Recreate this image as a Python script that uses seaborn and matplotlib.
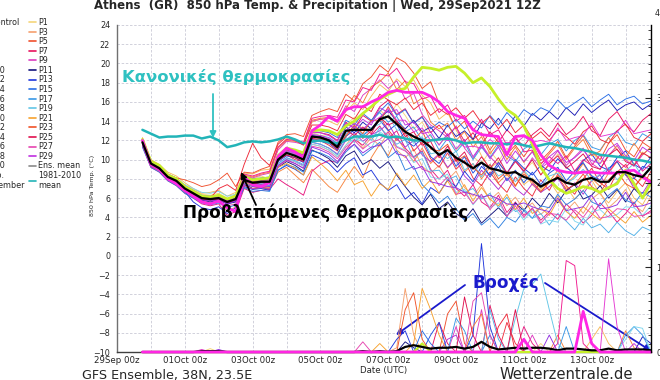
import matplotlib
matplotlib.use("Agg")
import matplotlib.pyplot as plt
from matplotlib.lines import Line2D
from matplotlib.ticker import MultipleLocator
import pandas as pd
import seaborn as sns

W, H = 660, 380

# forecast steps, hours after 29Sep 00z (6-hourly)
hours = list(range(18, 384, 6))
tick_days = [0, 2, 4, 6, 8, 10, 12, 14]
tick_labels = ["29Sep 00z", "01Oct 00z", "03Oct 00z", "05Oct 00z",
               "07Oct 00z", "09Oct 00z", "11Oct 00z", "13Oct 00z"]

member_names = ["P%d" % i for i in range(1, 31)]
member_colors = ["#f5d57a", "#f7bb5c", "#f5a06e", "#f7843e", "#f0502e",
                 "#ee3040", "#e8125e", "#e8187e", "#dc3cc0", "#b030d2",
                 "#14147e", "#1a1ab4", "#2036dc", "#204ee0", "#2a6ee6",
                 "#3080e0", "#3a98e6", "#50b0e8", "#62c6e6", "#80d6ee",
                 "#f7a22e", "#f67a36", "#f05228", "#ee2838", "#e0104e",
                 "#f0188e", "#e646b0", "#e438d2", "#c030e0", "#9030e0"]

ens_mean_temp = [11.8, 9.6, 9.1, 8.2, 7.8, 7.0, 6.5, 6.0, 5.9, 6.0, 5.6, 5.9,
                 7.9, 7.6, 7.7, 7.7, 10.0, 10.7, 10.4, 10.0, 12.4, 12.3, 12.0, 11.3,
                 13.0, 13.1, 13.1, 13.1, 14.2, 14.5, 13.7, 12.9, 12.4, 12.0, 11.3, 10.5,
                 11.0, 10.2, 9.7, 9.1, 9.7, 9.1, 8.9, 8.6, 8.7, 8.2, 7.9, 7.2,
                 7.7, 8.1, 7.6, 7.4, 7.9, 8.1, 7.7, 7.7, 8.7, 8.7, 8.4, 8.2, 9.2]

clim_mean_temp = [13.1, 12.7, 12.3, 12.4, 12.4, 12.5, 12.5, 12.2, 12.4, 12.0, 11.3, 11.5,
                  11.8, 11.9, 11.8, 11.9, 12.1, 12.4, 12.1, 11.7, 11.9, 12.0, 11.8, 11.7,
                  12.0, 12.4, 12.4, 12.4, 12.6, 12.3, 12.4, 12.2, 12.0, 12.0, 12.0, 12.1,
                  12.2, 12.0, 11.7, 11.8, 11.8, 11.7, 11.7, 11.6, 11.7, 11.5, 11.3, 11.5,
                  11.7, 11.5, 11.3, 11.2, 11.0, 10.8, 10.5, 10.4, 10.3, 10.2, 10.0, 9.9, 9.7]

control_temp = [12.1, 9.8, 9.4, 8.4, 8.0, 7.2, 6.7, 6.2, 6.1, 6.3, 5.9, 6.2,
                8.2, 7.9, 8.0, 8.1, 10.4, 11.2, 11.0, 10.7, 13.0, 13.1, 13.0, 12.6,
                13.5, 14.0, 14.8, 15.5, 16.3, 16.8, 17.2, 17.4, 18.6, 19.6, 19.5, 19.3,
                19.6, 19.7, 19.0, 18.0, 18.5, 17.6, 16.3, 15.2, 14.6, 13.5, 11.6, 9.2,
                7.9, 7.0, 6.5, 6.8, 7.2, 7.0, 6.6, 7.1, 7.5, 8.9, 7.5, 6.0, 7.6]

op_temp = [12.0, 9.5, 9.0, 8.0, 7.5, 6.8, 6.2, 5.6, 5.4, 5.7, 5.0, 4.6,
           8.2, 7.4, 7.2, 7.6, 10.3, 11.2, 10.8, 10.2, 13.0, 13.6, 14.5, 14.0,
           15.2, 15.5, 15.5, 16.0, 16.4, 17.0, 17.2, 17.0, 17.0, 17.0, 16.6, 16.0,
           15.0, 14.6, 14.3, 13.1, 12.6, 12.5, 12.4, 10.5, 12.4, 12.5, 12.0, 10.5,
           9.4, 8.9, 8.7, 8.6, 8.7, 8.7, 8.6, 8.6, 8.6, 8.8, 8.9, 8.2, 7.6]

member_temp = [
    [12.0, 9.9, 9.4, 8.5, 8.0, 7.3, 6.9, 6.4, 6.3, 6.5, 6.0, 6.4, 8.2, 8.0, 8.3, 8.0, 10.2, 11.0, 10.9, 10.4, 12.8, 12.5, 12.6, 11.9,
     13.6, 14.4, 13.1, 13.9, 15.2, 14.3, 15.8, 14.6, 13.2, 13.9, 12.4, 11.6, 12.5, 11.0, 11.9, 10.3, 9.6, 10.9, 9.8, 11.2, 10.0, 8.9, 9.7, 8.5,
     9.4, 10.6, 9.3, 8.4, 9.8, 10.9, 9.6, 10.3, 11.4, 10.2, 9.5, 10.8, 10.1],
    [12.3, 10.0, 9.5, 8.7, 8.3, 7.6, 7.0, 6.5, 6.6, 6.8, 6.2, 6.6, 8.6, 8.5, 8.9, 9.0, 11.3, 12.2, 12.0, 11.6, 13.9, 14.2, 14.0, 13.6,
     15.0, 15.9, 15.2, 16.6, 17.8, 17.1, 18.4, 17.6, 18.3, 16.7, 15.9, 14.2, 14.9, 13.1, 11.6, 12.2, 10.4, 9.1, 9.8, 8.3, 8.9, 7.4, 8.1, 6.9,
     7.8, 6.5, 7.2, 5.9, 6.8, 7.9, 6.4, 5.5, 6.7, 7.6, 6.0, 5.3, 6.9],
    [11.5, 9.3, 8.8, 7.9, 7.4, 6.6, 6.1, 5.7, 5.5, 5.7, 4.6, 5.1, 7.3, 7.0, 7.2, 7.1, 9.4, 10.0, 9.8, 9.3, 11.6, 11.4, 11.0, 10.3,
     11.5, 12.6, 11.2, 12.3, 11.4, 12.9, 11.0, 10.2, 11.1, 9.3, 8.6, 9.4, 7.9, 8.8, 7.1, 6.2, 7.4, 5.8, 6.6, 5.2, 6.1, 4.8, 5.5, 4.3,
     5.1, 6.2, 4.7, 5.6, 4.4, 5.9, 6.6, 5.0, 5.8, 6.9, 5.3, 4.6, 6.2],
    [11.9, 9.8, 9.2, 8.4, 7.9, 7.1, 6.7, 6.2, 6.0, 6.2, 5.8, 6.1, 7.6, 7.0, 7.1, 6.9, 8.7, 9.2, 8.4, 7.6, 9.0, 8.1, 7.2, 6.6,
     8.0, 9.3, 8.1, 10.2, 11.6, 10.4, 12.3, 11.0, 9.8, 11.2, 9.6, 10.5, 9.1, 10.3, 8.7, 9.6, 8.0, 9.2, 7.6, 8.5, 7.2, 8.8, 7.4, 6.6,
     7.7, 8.9, 7.5, 8.3, 9.6, 8.1, 7.2, 8.6, 9.8, 8.4, 7.3, 8.1, 9.2],
    [12.1, 9.7, 9.3, 8.4, 8.1, 7.9, 7.6, 7.2, 7.4, 7.9, 8.6, 7.2, 8.7, 8.6, 9.0, 9.3, 11.8, 12.6, 12.7, 12.4, 14.6, 15.0, 15.3, 15.0,
     16.8, 16.1, 17.9, 18.6, 19.8, 19.1, 20.6, 20.1, 19.0, 17.4, 18.1, 15.8, 15.1, 13.2, 14.0, 12.1, 12.8, 11.0, 12.3, 10.6, 11.5, 10.3, 11.6, 9.9,
     10.8, 11.9, 10.2, 11.4, 12.5, 10.9, 10.0, 11.7, 12.6, 11.0, 10.3, 11.8, 11.2],
    [11.6, 9.4, 8.9, 8.0, 7.6, 6.8, 6.3, 5.8, 5.7, 5.9, 5.4, 5.8, 7.8, 7.5, 7.4, 7.6, 10.1, 10.5, 10.0, 9.8, 12.2, 12.0, 11.5, 10.9,
     12.6, 13.5, 12.2, 13.0, 14.4, 13.1, 12.0, 12.8, 10.9, 11.8, 10.1, 9.2, 10.7, 9.0, 9.9, 8.1, 7.3, 8.7, 7.5, 6.6, 8.2, 7.0, 6.2, 7.9,
     6.8, 8.5, 7.3, 6.4, 8.0, 9.1, 7.6, 6.9, 8.7, 9.5, 8.1, 7.2, 8.8],
    [12.2, 9.9, 9.3, 8.4, 8.0, 7.2, 6.7, 6.2, 6.1, 6.2, 5.8, 6.1, 8.1, 7.9, 8.0, 8.0, 10.4, 11.0, 10.8, 10.5, 12.9, 12.8, 12.6, 12.0,
     13.9, 13.2, 14.6, 14.0, 15.5, 16.2, 14.7, 15.3, 13.8, 14.5, 12.8, 13.6, 12.5, 13.4, 11.9, 12.8, 11.5, 12.9, 11.8, 13.1, 12.2, 11.4, 12.6, 13.3,
     12.4, 13.8, 12.6, 13.3, 14.5, 13.0, 12.5, 14.2, 15.0, 13.6, 12.9, 14.1, 14.8],
    [11.4, 9.2, 8.7, 7.8, 7.3, 6.5, 6.0, 5.4, 5.2, 5.4, 4.2, 4.6, 7.0, 6.6, 6.8, 6.9, 8.0, 7.4, 6.9, 6.3, 8.8, 9.5, 9.9, 9.7,
     11.0, 12.1, 11.5, 12.6, 13.5, 12.2, 13.0, 11.2, 10.3, 10.9, 9.0, 8.0, 8.9, 7.0, 6.2, 7.4, 5.6, 5.0, 6.3, 4.5, 5.6, 4.2, 4.9, 3.7,
     4.6, 3.8, 5.4, 4.5, 3.4, 4.2, 5.5, 4.6, 3.5, 4.4, 5.6, 4.1, 4.7],
    [12.0, 9.8, 9.2, 8.3, 7.9, 7.1, 6.6, 6.1, 6.0, 6.1, 5.7, 6.0, 8.3, 8.1, 8.4, 8.6, 11.0, 11.9, 11.8, 11.6, 14.0, 14.2, 14.3, 13.9,
     15.6, 15.0, 16.7, 17.4, 18.3, 17.4, 18.2, 16.3, 16.9, 14.7, 13.6, 13.0, 12.3, 13.5, 11.2, 10.1, 11.6, 10.3, 9.4, 10.8, 9.9, 8.7, 10.2, 9.1,
     9.8, 10.9, 9.4, 10.3, 11.2, 9.6, 9.0, 10.4, 11.5, 10.0, 9.3, 10.5, 11.3],
    [11.7, 9.5, 9.0, 8.1, 7.7, 6.9, 6.4, 5.9, 5.8, 5.9, 5.5, 5.7, 7.6, 7.3, 7.4, 7.3, 9.6, 10.2, 9.8, 9.4, 11.8, 11.6, 11.2, 10.6,
     12.0, 12.8, 11.9, 12.6, 13.0, 13.8, 12.2, 11.3, 12.0, 10.5, 9.8, 10.6, 9.2, 10.0, 8.3, 7.4, 8.9, 7.9, 6.9, 8.1, 7.0, 6.3, 7.5, 6.6,
     7.2, 8.1, 6.7, 7.6, 6.4, 7.8, 8.4, 6.9, 7.7, 8.6, 7.0, 6.5, 7.9],
    [11.6, 9.3, 8.9, 8.1, 7.6, 6.8, 6.3, 5.8, 5.6, 5.8, 5.4, 5.6, 7.4, 7.0, 7.1, 7.0, 9.2, 9.8, 9.4, 8.8, 11.0, 10.6, 10.1, 9.2,
     10.4, 10.9, 9.5, 10.0, 9.1, 9.8, 8.4, 7.2, 6.1, 5.3, 6.4, 4.9, 5.6, 4.4, 3.8, 4.9, 3.4, 4.2, 5.0, 4.1, 5.5, 4.7, 6.0, 5.1,
     6.5, 5.5, 6.8, 7.4, 5.9, 6.3, 7.3, 6.0, 6.9, 5.6, 7.0, 6.1, 6.8],
    [11.9, 9.7, 9.2, 8.3, 7.9, 7.1, 6.6, 6.1, 5.9, 6.1, 5.7, 6.0, 7.9, 7.6, 7.8, 7.7, 10.0, 10.8, 10.5, 10.1, 12.5, 12.4, 12.1, 11.5,
     13.4, 12.8, 13.9, 13.2, 14.3, 15.1, 14.0, 13.2, 14.1, 12.9, 13.4, 12.2, 13.6, 12.4, 13.0, 12.1, 13.8, 13.2, 14.3, 13.0, 14.6, 13.5, 14.8, 14.1,
     15.0, 14.2, 15.4, 14.6, 15.8, 14.9, 15.6, 16.2, 15.1, 15.7, 16.0, 15.2, 15.8],
    [11.5, 9.4, 8.9, 8.0, 7.5, 6.7, 5.6, 5.0, 4.8, 5.1, 4.4, 5.0, 7.2, 6.9, 7.0, 6.8, 8.9, 9.4, 9.0, 8.4, 10.5, 10.1, 9.6, 8.7,
     9.6, 10.2, 8.4, 8.9, 7.6, 6.8, 7.4, 5.9, 6.6, 5.4, 7.1, 6.5, 7.9, 7.2, 8.8, 7.7, 9.3, 8.4, 9.7, 8.6, 10.0, 9.1, 8.4, 9.4,
     8.8, 10.1, 9.2, 8.5, 9.9, 10.6, 9.3, 8.9, 10.2, 10.9, 9.5, 9.0, 10.3],
    [11.8, 9.6, 9.0, 8.2, 7.7, 7.0, 6.4, 6.0, 5.8, 6.0, 5.6, 5.9, 7.8, 7.4, 7.6, 7.5, 9.8, 10.4, 10.2, 9.7, 12.1, 11.9, 11.7, 11.0,
     12.4, 13.1, 12.5, 13.2, 14.1, 13.0, 13.7, 12.0, 11.4, 12.2, 10.3, 9.6, 11.0, 9.3, 10.3, 8.6, 9.7, 8.2, 9.4, 7.8, 8.9, 7.6, 8.7, 7.4,
     8.6, 9.2, 7.8, 8.8, 9.7, 8.3, 7.9, 9.1, 9.8, 8.4, 8.0, 9.3, 9.0],
    [12.0, 9.8, 9.3, 8.4, 8.0, 7.2, 6.7, 6.2, 6.1, 6.2, 5.8, 6.2, 8.2, 8.0, 8.1, 8.2, 10.5, 11.2, 11.0, 10.7, 13.0, 13.0, 12.8, 12.3,
     14.1, 13.6, 14.8, 14.1, 15.0, 15.9, 14.6, 15.2, 13.8, 14.4, 13.2, 13.9, 13.4, 14.2, 13.2, 14.0, 13.3, 14.6, 13.6, 14.9, 14.0, 15.2, 14.6, 15.4,
     15.0, 16.2, 15.3, 15.9, 16.5, 15.5, 16.2, 16.8, 15.7, 16.3, 16.6, 15.8, 16.1],
    [11.3, 9.2, 8.7, 7.8, 7.3, 6.5, 6.0, 5.5, 5.3, 5.5, 5.0, 5.3, 7.1, 6.7, 6.8, 6.7, 8.9, 9.5, 9.2, 8.7, 10.9, 10.7, 10.3, 9.6,
     10.8, 11.6, 10.4, 11.1, 11.8, 10.2, 10.9, 8.9, 9.3, 7.4, 6.5, 5.5, 6.2, 4.9, 3.7, 4.4, 3.2, 3.9, 2.9, 4.0, 3.5, 4.7, 3.9, 5.2,
     5.0, 6.4, 5.3, 5.9, 6.8, 5.6, 5.2, 6.3, 7.0, 5.8, 5.4, 6.6, 6.1],
    [12.1, 9.9, 9.4, 8.5, 8.1, 7.3, 6.8, 6.3, 6.2, 6.3, 5.9, 6.2, 8.1, 7.8, 7.9, 8.0, 10.3, 10.9, 10.7, 10.3, 12.6, 12.5, 12.3, 11.7,
     13.0, 13.8, 13.1, 14.0, 14.9, 13.9, 14.5, 12.9, 13.4, 12.0, 12.6, 11.0, 12.2, 10.8, 11.8, 10.0, 11.3, 10.2, 11.5, 10.4, 9.8, 11.1, 11.7, 10.5,
     11.6, 12.1, 10.9, 12.0, 12.6, 11.3, 11.0, 12.3, 13.0, 11.8, 11.5, 12.7, 12.2],
    [11.7, 9.5, 9.0, 8.1, 7.7, 6.9, 6.4, 5.9, 5.8, 5.9, 5.5, 5.8, 7.7, 7.3, 7.5, 7.3, 9.6, 10.2, 9.9, 9.5, 11.8, 11.6, 11.2, 10.5,
     12.3, 11.8, 12.7, 12.0, 13.3, 12.5, 11.6, 12.1, 10.2, 10.8, 8.8, 8.9, 7.9, 8.3, 6.6, 7.0, 5.9, 6.5, 5.0, 6.1, 4.6, 4.9, 3.9, 4.4,
     3.2, 4.4, 3.6, 2.7, 3.9, 2.9, 3.3, 2.4, 3.5, 2.6, 2.1, 3.0, 2.6],
    [11.9, 9.6, 9.1, 8.3, 7.9, 7.1, 6.5, 6.1, 6.0, 6.1, 5.7, 6.0, 7.9, 7.7, 7.8, 7.8, 10.1, 10.8, 10.5, 10.1, 12.4, 12.3, 12.0, 11.3,
     12.7, 13.4, 12.6, 13.3, 13.7, 14.6, 13.1, 12.9, 11.7, 12.4, 10.6, 10.8, 10.1, 10.9, 8.9, 9.6, 8.2, 9.5, 8.3, 8.8, 7.7, 8.9, 7.9, 7.1,
     8.3, 8.6, 7.5, 8.1, 9.0, 7.8, 8.5, 9.2, 7.9, 8.8, 9.6, 8.2, 9.0],
    [11.6, 9.4, 8.9, 8.0, 8.1, 7.4, 7.0, 6.6, 6.5, 6.7, 6.2, 6.4, 7.5, 7.2, 7.3, 7.2, 9.5, 10.1, 9.8, 9.3, 11.6, 11.4, 11.0, 10.3,
     11.5, 12.2, 11.9, 11.2, 12.9, 12.3, 11.4, 11.0, 9.7, 10.1, 8.2, 8.0, 8.5, 6.6, 6.9, 5.3, 6.4, 5.0, 5.5, 4.2, 4.9, 3.7, 4.8, 3.3,
     3.7, 3.5, 4.9, 3.6, 3.2, 4.6, 4.8, 4.0, 4.3, 5.1, 5.0, 4.2, 5.2],
    [11.8, 9.6, 9.1, 8.2, 7.8, 7.0, 6.5, 6.0, 5.9, 6.0, 5.6, 5.9, 7.7, 7.3, 7.3, 7.1, 9.2, 9.6, 9.1, 8.4, 10.3, 9.6, 8.8, 7.8,
     8.9, 7.4, 7.8, 6.2, 7.5, 6.9, 8.6, 7.3, 8.4, 7.0, 7.9, 6.5, 7.8, 6.3, 7.4, 5.7, 7.1, 5.9, 5.2, 6.4, 4.8, 6.0, 4.4, 5.0,
     4.2, 5.8, 4.6, 3.9, 5.1, 4.4, 3.7, 4.9, 4.1, 3.4, 4.6, 3.5, 4.2],
    [12.2, 9.9, 9.4, 8.5, 8.1, 7.3, 6.8, 6.2, 6.2, 6.3, 5.9, 6.3, 8.4, 8.2, 8.5, 8.7, 11.2, 12.0, 11.9, 11.7, 14.1, 14.3, 14.4, 14.1,
     15.3, 16.7, 15.9, 17.6, 18.1, 19.0, 17.3, 18.2, 15.8, 16.4, 13.9, 13.2, 13.8, 12.0, 12.9, 11.3, 12.4, 10.6, 11.8, 10.0, 11.3, 9.7, 10.9, 9.5,
     10.6, 11.6, 10.0, 11.2, 12.1, 10.4, 10.9, 12.3, 11.0, 10.2, 11.7, 10.5, 11.3],
    [11.9, 9.7, 9.1, 8.3, 7.8, 7.0, 6.5, 6.1, 5.9, 6.0, 5.6, 6.0, 8.0, 7.7, 7.8, 7.8, 10.1, 10.7, 10.4, 10.0, 12.4, 12.2, 11.9, 11.2,
     12.4, 13.6, 12.7, 14.1, 14.0, 15.5, 13.9, 13.1, 12.0, 13.0, 11.1, 10.9, 11.6, 9.8, 10.4, 9.2, 8.4, 9.5, 8.0, 8.8, 7.3, 8.5, 7.7, 6.7,
     7.6, 8.3, 6.9, 7.4, 8.5, 7.2, 6.6, 7.9, 8.8, 7.5, 7.0, 8.4, 7.8],
    [12.0, 9.7, 9.2, 8.3, 7.9, 7.1, 6.6, 6.1, 6.0, 7.0, 7.4, 6.8, 9.5, 11.7, 10.2, 9.4, 11.6, 12.4, 12.0, 11.5, 13.6, 13.6, 13.4, 13.0,
     14.7, 14.2, 15.6, 15.0, 16.8, 16.2, 15.7, 16.4, 15.2, 15.9, 14.6, 15.3, 14.7, 15.4, 14.3, 15.1, 13.8, 14.5, 13.2, 14.2, 12.8, 13.6, 12.2, 12.9,
     12.0, 13.1, 12.4, 11.6, 12.9, 13.5, 12.1, 11.7, 13.0, 13.7, 12.3, 11.9, 12.7],
    [11.7, 9.5, 9.0, 8.1, 7.7, 6.9, 6.4, 5.9, 5.8, 5.9, 5.5, 5.8, 7.8, 7.5, 7.6, 7.6, 9.9, 10.5, 10.2, 9.8, 12.2, 12.1, 11.8, 11.1,
     13.1, 12.5, 13.4, 12.7, 14.4, 13.6, 14.0, 12.4, 12.9, 11.5, 11.9, 10.2, 11.4, 9.9, 10.8, 9.0, 10.3, 9.1, 10.2, 8.6, 9.8, 8.8, 10.0, 8.4,
     9.6, 10.4, 9.1, 9.8, 10.6, 9.3, 9.0, 10.5, 11.1, 9.8, 9.4, 10.7, 10.2],
    [12.1, 9.8, 9.3, 8.4, 8.0, 7.2, 6.7, 6.2, 6.1, 6.2, 5.8, 6.2, 8.5, 8.3, 8.6, 8.8, 11.3, 12.1, 12.0, 11.8, 14.3, 14.5, 14.6, 14.4,
     16.2, 16.0, 17.5, 17.2, 18.9, 18.7, 19.5, 18.1, 17.9, 16.3, 16.6, 14.9, 15.7, 14.0, 14.6, 13.0, 14.2, 12.6, 13.1, 11.5, 12.5, 10.8, 11.0, 9.6,
     10.3, 9.6, 10.4, 8.8, 10.0, 9.4, 10.5, 8.7, 9.9, 9.2, 10.1, 8.8, 9.6],
    [11.5, 9.3, 8.8, 7.9, 7.5, 6.7, 6.2, 5.6, 5.5, 5.6, 5.2, 5.4, 7.3, 7.0, 7.1, 7.0, 9.3, 9.9, 9.6, 9.1, 11.4, 11.2, 10.8, 10.1,
     11.3, 12.0, 11.1, 11.8, 12.1, 12.9, 11.3, 10.9, 10.2, 9.0, 8.7, 7.3, 8.2, 6.4, 6.6, 5.4, 6.4, 4.8, 5.9, 4.1, 5.2, 4.0, 5.0, 3.4,
     4.4, 4.3, 3.7, 4.8, 4.0, 5.2, 3.9, 4.1, 4.9, 4.8, 4.1, 4.2, 4.5],
    [11.9, 9.7, 9.2, 8.3, 7.8, 7.0, 6.5, 6.0, 5.9, 6.0, 5.7, 6.0, 8.0, 7.8, 7.9, 7.9, 10.2, 10.9, 10.6, 10.2, 12.6, 12.5, 12.2, 11.6,
     13.0, 13.8, 13.2, 13.9, 14.4, 15.3, 14.1, 14.1, 12.9, 13.3, 12.0, 12.2, 12.0, 12.1, 11.3, 11.4, 11.2, 12.1, 11.4, 11.8, 11.7, 12.4, 11.8, 12.0,
     11.8, 13.3, 12.0, 12.3, 12.5, 13.8, 12.4, 12.6, 12.8, 14.1, 12.7, 12.9, 13.1],
    [12.0, 9.8, 9.2, 8.4, 7.9, 7.1, 6.6, 6.1, 6.0, 6.1, 5.7, 6.0, 8.1, 7.9, 8.0, 8.1, 10.4, 11.1, 10.9, 10.5, 12.8, 12.8, 12.5, 11.9,
     13.8, 13.3, 14.2, 13.6, 15.4, 14.9, 15.2, 13.6, 13.9, 12.7, 12.9, 11.5, 12.7, 11.1, 12.1, 10.3, 11.5, 10.1, 11.3, 9.6, 10.9, 9.8, 10.8, 9.2,
     10.3, 11.0, 9.7, 10.2, 11.0, 9.9, 9.6, 11.1, 11.7, 10.4, 9.9, 11.3, 10.7],
    [11.6, 9.4, 8.9, 8.0, 7.6, 6.8, 6.3, 5.8, 5.7, 5.8, 5.4, 5.7, 7.5, 7.2, 7.3, 7.2, 9.4, 10.0, 9.6, 9.1, 11.3, 11.0, 10.6, 9.8,
     11.0, 11.6, 10.7, 11.3, 11.5, 12.2, 10.6, 10.4, 9.0, 9.3, 7.7, 7.5, 7.2, 7.1, 6.6, 6.4, 6.1, 6.3, 5.9, 5.4, 5.3, 5.5, 5.1, 4.8,
     4.6, 6.0, 4.7, 4.9, 5.1, 6.3, 4.9, 5.0, 5.3, 6.6, 5.1, 5.2, 5.5],
]

# precipitation (mm / 6h): steps with rain only, all other steps are 0
ens_mean_precip = [0, 0, 0, 0, 0, 0, 0, 0.01, 0.01, 0.01, 0, 0,
                   0, 0, 0, 0, 0, 0, 0, 0, 0, 0, 0, 0,
                   0, 0, 0.01, 0, 0.01, 0, 0.01, 0.06, 0.08, 0.06, 0.04, 0.05,
                   0.05, 0.06, 0.04, 0.06, 0.12, 0.06, 0.03, 0.04, 0.05, 0.04, 0.05, 0.05,
                   0.04, 0.02, 0.04, 0.04, 0.03, 0.02, 0.02, 0.04, 0.02, 0.03, 0.03, 0.03, 0.02]
member_precip = {
    "P1": {8: 0.04, 47: 0.1}, "P2": {53: 0.15, 54: 0.3, 55: 0.1},
    "P3": {30: 0.05, 31: 0.75, 32: 0.2}, "P4": {49: 0.2, 57: 0.25, 58: 0.05},
    "P5": {36: 0.45, 37: 0.6, 38: 0.1}, "P6": {43: 0.35, 44: 0.1},
    "P7": {35: 0.35, 36: 0.1, 41: 0.55, 42: 0.2}, "P8": {45: 0.3, 46: 0.1},
    "P9": {7: 0.03, 37: 0.3, 40: 0.5, 46: 0.2}, "P10": {36: 0.15, 37: 0.2},
    "P11": {31: 0.12, 32: 0.05}, "P12": {59: 0.18, 60: 0.1},
    "P13": {30: 0.15, 31: 0.25, 39: 0.2, 40: 1.28, 41: 0.3}, "P14": {34: 0.2, 35: 0.35},
    "P15": {33: 0.25, 34: 0.1}, "P16": {41: 0.2},
    "P17": {37: 0.4, 38: 0.25, 50: 0.3, 57: 0.2, 58: 0.3, 59: 0.2}, "P18": {41: 0.5, 42: 0.15},
    "P19": {44: 0.4, 45: 0.75, 46: 0.8, 47: 0.92, 48: 0.5, 49: 0.1}, "P20": {57: 0.15, 58: 0.3, 59: 0.28},
    "P21": {28: 0.1, 32: 0.1, 33: 0.75, 34: 0.5, 35: 0.2}, "P22": {39: 0.3, 40: 0.45},
    "P23": {31: 0.5, 32: 0.7, 33: 0.15}, "P24": {42: 0.3, 43: 0.45},
    "P25": {38: 0.65, 39: 0.2, 44: 0.5}, "P26": {49: 0.1, 50: 1.08, 51: 1.02, 52: 0.1},
    "P27": {26: 0.12, 39: 0.6, 40: 0.7, 41: 0.2}, "P28": {55: 1.1, 56: 0.3},
    "P29": {58: 0.1}, "P30": {9: 0.03, 48: 0.2},
}
control_precip = {33: 0.1}
op_precip = {45: 0.15, 52: 0.48, 53: 0.1}

TEAL = "#22b4b8"
TEAL_TXT = "#2fc1c1"
YGREEN = "#c6f02a"
MAGENTA = "#ff26e4"
BLUE = "#1a1acc"
GRID = "#cacad6"

sns.set_style("white")
plt.rcParams["font.family"] = ["DejaVu Sans"]

days = [h / 24 for h in hours]


def px(x, y):
    return x / W, 1 - y / H


def steps(spikes):
    return [spikes.get(i, 0.0) for i in range(len(hours))]


fig = plt.figure(figsize=(W / 100, H / 100), dpi=100)
ax = fig.add_axes([117 / W, 28 / H, 534 / W, 327 / H])

# temperature spaghetti
temp_long = pd.DataFrame([(n, d, v) for n, vals in zip(member_names, member_temp)
                          for d, v in zip(days, vals)], columns=["member", "day", "temp"])
palette = dict(zip(member_names, member_colors))
sns.lineplot(data=temp_long, x="day", y="temp", hue="member", palette=palette,
             estimator=None, legend=False, linewidth=0.65, ax=ax)
sns.lineplot(x=days, y=clim_mean_temp, color=TEAL, linewidth=1.8, ax=ax)
sns.lineplot(x=days, y=control_temp, color=YGREEN, linewidth=2.0, ax=ax)
sns.lineplot(x=days, y=op_temp, color=MAGENTA, linewidth=2.0, ax=ax)
sns.lineplot(x=days, y=ens_mean_temp, color="black", linewidth=1.6, ax=ax)

ax.set_xlim(0, 15.75)
ax.set_ylim(-10, 24)
ax.set_xticks(tick_days)
ax.set_xticklabels(tick_labels)
ax.xaxis.set_minor_locator(MultipleLocator(1))
ax.set_yticks(range(-10, 25, 2))
ax.set_axisbelow(True)
ax.grid(which="both", axis="x", color=GRID, linestyle=(0, (3, 2)), linewidth=0.6)
ax.grid(which="major", axis="y", color=GRID, linestyle=(0, (3, 2)), linewidth=0.6)
ax.tick_params(axis="both", which="both", length=0)
ax.tick_params(axis="x", labelsize=6.2, pad=3)
ax.tick_params(axis="y", labelsize=5.8, pad=5)
ax.set_xlabel("")
ax.set_ylabel("850 hPa Temp. (°C)", fontsize=4.6)
ax.yaxis.set_label_coords((95 - 117) / 534, 0.51)
for s in ["top", "right"]:
    ax.spines[s].set_visible(False)
ax.spines["left"].set_color("#707070")
ax.spines["bottom"].set_color("#404040")
ax.spines["left"].set_linewidth(1.0)
ax.spines["bottom"].set_linewidth(1.0)

# precipitation on the right axis
ax2 = ax.twinx()
prec_long = pd.DataFrame([(n, d, v) for n in member_names
                          for d, v in zip(days, steps(member_precip[n]))],
                         columns=["member", "day", "prec"])
sns.lineplot(data=prec_long, x="day", y="prec", hue="member", palette=palette,
             estimator=None, legend=False, linewidth=0.65, ax=ax2)
sns.lineplot(x=days, y=steps(control_precip), color=YGREEN, linewidth=1.6, ax=ax2)
sns.lineplot(x=days, y=ens_mean_precip, color="black", linewidth=1.6, ax=ax2)
sns.lineplot(x=days, y=steps(op_precip), color=MAGENTA, linewidth=2.0, ax=ax2)
for ln in ax2.lines:
    ln.set_clip_on(False)
ax2.set_ylim(0, 3.86)
ax2.set_yticks([0, 1, 2, 3])
ax2.yaxis.set_minor_locator(MultipleLocator(0.1))
ax2.tick_params(axis="y", which="major", direction="in", length=4, width=0.8,
                labelsize=5.8, pad=4)
ax2.tick_params(axis="y", which="minor", direction="in", length=2, width=0.6)
ax2.set_ylabel("")
for s in ["top", "left", "bottom"]:
    ax2.spines[s].set_visible(False)
ax2.spines["right"].set_color("black")
ax2.spines["right"].set_linewidth(1.0)
fig.text(*px(655, 13), "4", fontsize=5.8, ha="left", va="center")

# titles and footers
fig.text(*px(317, 5), "Athens  (GR)  850 hPa Temp. & Precipitation | Wed, 29Sep2021 12Z",
         ha="center", va="center", fontsize=8.5, fontweight="bold")
fig.text(*px(384, 371), "Date (UTC)", ha="center", va="center", fontsize=6.2)
fig.text(*px(82, 379), "GFS Ensemble, 38N, 23.5E", ha="left", va="baseline", fontsize=9.2)
fig.text(*px(500, 379), "Wetterzentrale.de", ha="left", va="baseline", fontsize=10.6)

# greek annotations
fig.text(*px(122, 77), "Κανονικές θερμοκρασίες", color=TEAL_TXT, fontsize=11.8,
         fontweight="bold", ha="left", va="center")
fig.text(*px(183, 213), "Προβλεπόμενες θερμοκρασίες", color="black", fontsize=12.2,
         fontweight="bold", ha="left", va="center")
fig.text(*px(473, 283), "Βροχές", color=BLUE, fontsize=12.2,
         fontweight="bold", ha="left", va="center")


def arrow(x0, y0, x1, y1, color):
    ax.annotate("", xy=(x1, H - y1), xytext=(x0, H - y0), xycoords="figure pixels",
                textcoords="figure pixels", annotation_clip=False,
                arrowprops=dict(arrowstyle="-|>", color=color, lw=1.3, mutation_scale=9,
                                shrinkA=0, shrinkB=0))


arrow(213, 94, 213, 138, TEAL_TXT)
arrow(256, 205, 241, 172, "black")
arrow(465, 285, 396, 335, BLUE)
arrow(545, 283, 651, 351, BLUE)

# legend, partly cut off at the left edge
odd = [Line2D([], [], color=member_colors[i], lw=1.2) for i in range(0, 30, 2)]
even = [Line2D([], [], color=member_colors[i], lw=1.2) for i in range(1, 30, 2)]
handles = ([Line2D([], [], color=YGREEN, lw=1.2)] + even + [Line2D([], [], color=MAGENTA, lw=1.2)]
           + odd + [Line2D([], [], color="#8a8a8a", lw=1.2), Line2D([], [], color=TEAL, lw=1.2)])
labels = (["Control"] + member_names[1::2] + ["Op.\nmember"]
          + member_names[0::2] + ["Ens. mean", "1981-2010\nmean"])
fig.legend(handles, labels, ncol=2, loc="upper left",
           bbox_to_anchor=(-19.5 / W, 1 - 18 / H), bbox_transform=fig.transFigure,
           frameon=False, fontsize=5.8, handlelength=0.9, handletextpad=0.3,
           columnspacing=0.5, labelspacing=0.07, borderpad=0, borderaxespad=0)

fig.savefig("out.png", dpi=100)
